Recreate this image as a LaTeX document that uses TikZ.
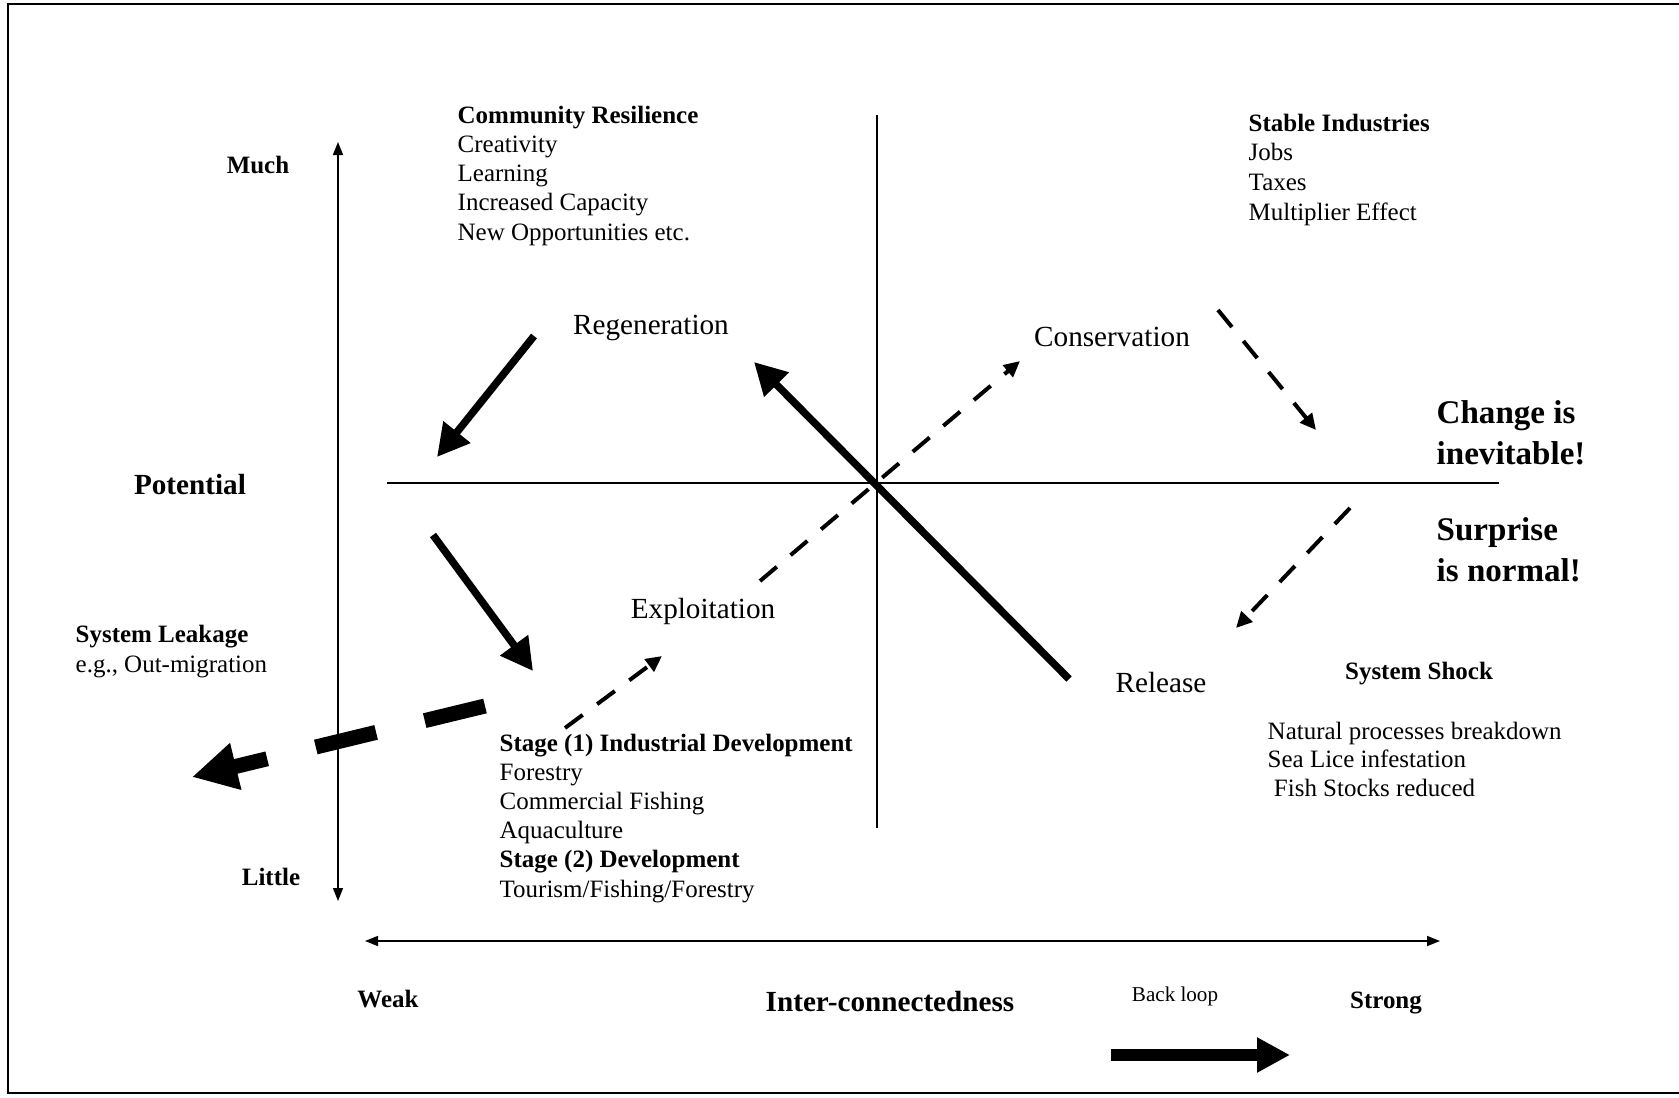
\documentclass[tikz,border=0pt]{standalone}
\usepackage{fontspec}
\setmainfont{Liberation Serif}
\usetikzlibrary{arrows.meta}

\tikzset{
  txt/.style={inner sep=0pt, align=left, font=\fontsize{7.1}{8.3}\selectfont},
  axlbl/.style={inner sep=0pt, font=\fontsize{7.1}{8.3}\selectfont\bfseries},
  axname/.style={inner sep=0pt, font=\fontsize{8.3}{10}\selectfont\bfseries},
  phase/.style={inner sep=0pt, font=\fontsize{8.3}{10}\selectfont},
  motto/.style={inner sep=0pt, align=left, font=\fontsize{9.4}{11.4}\selectfont\bfseries},
  axis/.style={line width=0.43pt, {Triangle[length=0.13cm,width=0.1cm]}-{Triangle[length=0.13cm,width=0.1cm]}},
  cross/.style={line width=0.6pt},
  solidarr/.style={line width=0.075cm, -{Triangle[length=0.32cm,width=0.33cm]}},
  dasharr/.style={line width=0.04cm, dash pattern=on 0.22cm off 0.18cm, -{Triangle[length=0.16cm,width=0.15cm]}},
  leakarr/.style={line width=0.15cm, dash pattern=on 0.62cm off 0.5cm, -{Triangle[length=0.45cm,width=0.45cm]}},
  looparr/.style={line width=0.117cm, -{Triangle[length=0.33cm,width=0.33cm]}}
}

\begin{document}
\begin{tikzpicture}[x=0.01cm, y=-0.01cm]
    \useasboundingbox (0,0) rectangle (1679,1097);
    \draw[line width=0.6pt] (1690,4) -- (8,4) -- (8,1093) -- (1690,1093);

    % axes
    \coordinate (pottop) at (338,142);
    \coordinate (potbot) at (338,901);
    \coordinate (intleft) at (365,941);
    \coordinate (intright) at (1440,941);
    \draw[axis] (potbot) -- (pottop);
    \draw[axis] (intleft) -- (intright);

    \coordinate (hleft) at (387,483);
    \coordinate (hright) at (1499,483);
    \coordinate (vtop) at (877,115);
    \coordinate (vbot) at (877,828);
    \draw[cross] (hleft) -- (hright);
    \draw[cross] (vtop) -- (vbot);

    % labels
    \node[axlbl, anchor=base] (much) at (258,174) {Much};
    \node[axlbl, anchor=base] (little) at (271,885) {Little};
    \node[axname, anchor=base] (potential) at (190,494) {Potential};
    \node[axlbl, anchor=base] (weak) at (388,1007) {Weak};
    \node[axname, anchor=base] (inter) at (890,1011) {Inter-connectedness};
    \node[inner sep=0pt, font=\fontsize{6}{7}\selectfont, anchor=base] (backloop) at (1175,1001) {Back loop};
    \node[axlbl, anchor=base] (strong) at (1386,1008) {Strong};

    \node[txt, anchor=base west] (community) at (457,240) {\textbf{Community Resilience}\\Creativity\\Learning\\Increased Capacity\\New Opportunities etc.};
    \node[txt, anchor=base west, font=\fontsize{7.1}{8.4}\selectfont] (stable) at (1248,220) {\textbf{Stable Industries}\\Jobs\\Taxes\\Multiplier Effect};
    \node[txt, anchor=base west] (leakage) at (75,672) {\textbf{System Leakage}\\e.g., Out-migration};
    \node[txt, anchor=base west] (stage) at (499,897) {\textbf{Stage (1) Industrial Development}\\Forestry\\Commercial Fishing\\Aquaculture\\\textbf{Stage (2) Development}\\Tourism/Fishing/Forestry};
    \node[axlbl, anchor=base] (shock) at (1419,679) {System Shock};
    \node[txt, anchor=base west, font=\fontsize{7.1}{8.1}\selectfont] (effects) at (1267,796) {Natural processes breakdown\\Sea Lice infestation\\~Fish Stocks reduced};

    \node[phase, anchor=base] (regen) at (651,334) {Regeneration};
    \node[phase, anchor=base] (conserv) at (1112,346) {Conservation};
    \node[phase, anchor=base] (exploit) at (703,618) {Exploitation};
    \node[phase, anchor=base] (release) at (1161,692) {Release};

    \node[motto, anchor=base west] (change) at (1436,464) {Change is\\inevitable!};
    \node[motto, anchor=base west] (surprise) at (1436,581) {Surprise\\is normal!};

    % cycle arrows
    \coordinate (regenout) at (534,336);
    \coordinate (potin) at (437,457);
    \coordinate (potout) at (433,535);
    \coordinate (stagein) at (533,671);
    \coordinate (releaseout) at (1069,679);
    \coordinate (regenin) at (754,362);
    \draw[solidarr] (regenout) -- (potin);
    \draw[solidarr] (potout) -- (stagein);
    \draw[solidarr] (releaseout) -- (regenin);

    \coordinate (stageout) at (565,728);
    \coordinate (exploitin) at (662,656);
    \coordinate (exploitout) at (760,581);
    \coordinate (conservin) at (1020,361);
    \coordinate (conservout) at (1218,310);
    \coordinate (changein) at (1316,430);
    \coordinate (surpriseout) at (1350,508);
    \coordinate (releasein) at (1236,628);
    \draw[dasharr] (stageout) -- (exploitin);
    \draw[dasharr] (exploitout) -- (conservin);
    \draw[dasharr] (conservout) -- (changein);
    \draw[dasharr] (surpriseout) -- (releasein);

    \coordinate (leakout) at (485,706);
    \coordinate (leakend) at (192,777);
    \draw[leakarr] (leakout) -- (leakend);

    \coordinate (loopstart) at (1111,1055);
    \coordinate (loopend) at (1290,1055);
    \draw[looparr] (loopstart) -- (loopend);
\end{tikzpicture}
\end{document}
